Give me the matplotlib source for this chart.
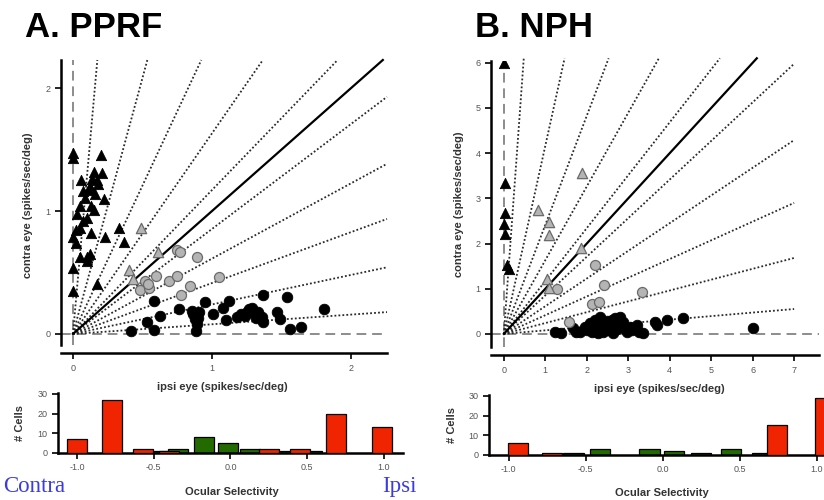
import numpy as np
import matplotlib
matplotlib.use('Agg')
import matplotlib.pyplot as plt

plt.rcParams['font.family'] = ['Liberation Sans', 'DejaVu Sans']

# sector boundaries drawn from the origin (degrees)
SECTOR_ANGLES = [4.5, 13.5, 22.5, 31.5, 40.5, 49.5, 58.5, 67.5, 76.5, 85.5]

# ---- A. PPRF scatter ----
pprf_tri_black_x = [0.00, 0.00, 0.20, 0.15, 0.21, 0.06, 0.17, 0.18, 0.07, 0.11, 0.13, 0.16,
                    0.22, 0.09, 0.05, 0.13, 0.15, 0.03, 0.10, 0.07, 0.02, 0.05, 0.13, 0.33,
                    0.23, 0.00, 0.02, 0.37, 0.05, 0.10, 0.12, 0.10, 0.00, 0.17, 0.00, 0.12, 0.14]
pprf_tri_black_y = [1.47, 1.43, 1.46, 1.32, 1.31, 1.25, 1.25, 1.22, 1.16, 1.17, 1.18, 1.14,
                    1.10, 1.11, 1.04, 1.04, 1.01, 0.98, 0.94, 0.92, 0.85, 0.86, 0.82, 0.86,
                    0.79, 0.79, 0.74, 0.75, 0.63, 0.63, 0.65, 0.59, 0.54, 0.41, 0.35, 1.20, 1.26]
pprf_tri_gray_x = [0.49, 0.61, 0.40, 0.43]
pprf_tri_gray_y = [0.86, 0.67, 0.52, 0.45]
pprf_circ_gray_x = [0.75, 0.77, 0.89, 0.52, 0.60, 0.48, 0.55, 0.69, 0.75, 1.05, 0.84, 0.78, 0.54]
pprf_circ_gray_y = [0.685, 0.665, 0.63, 0.43, 0.47, 0.36, 0.37, 0.43, 0.47, 0.46, 0.39, 0.32, 0.41]
pprf_circ_black_x = [0.42, 0.53, 0.58, 0.58, 0.63, 0.765, 0.865, 0.88, 0.90, 0.885, 0.91, 0.95,
                     1.01, 1.08, 1.125, 1.10, 1.18, 1.21, 1.25, 1.29, 1.30, 1.33, 1.36, 1.37,
                     1.37, 1.47, 1.49, 1.54, 1.56, 1.64, 1.81, 0.86, 1.24, 1.27, 0.89, 1.32]
pprf_circ_black_y = [0.02, 0.10, 0.265, 0.03, 0.15, 0.20, 0.16, 0.12, 0.13, 0.02, 0.18, 0.26,
                     0.16, 0.21, 0.27, 0.115, 0.14, 0.16, 0.18, 0.21, 0.17, 0.18, 0.14, 0.10,
                     0.32, 0.18, 0.12, 0.30, 0.04, 0.06, 0.20, 0.19, 0.15, 0.20, 0.08, 0.13]

# ---- B. NPH scatter ----
nph_tri_black_x = [0.00, 0.02, 0.02, 0.00, 0.03, 0.07, 0.13]
nph_tri_black_y = [6.00, 3.34, 2.68, 2.44, 2.20, 1.53, 1.44]
nph_tri_gray_x = [1.88, 0.82, 1.08, 1.08, 1.87, 1.04, 1.10]
nph_tri_gray_y = [3.56, 2.74, 2.47, 2.18, 1.90, 1.22, 1.02]
nph_circ_gray_x = [1.28, 2.20, 2.42, 2.13, 2.30, 3.32, 1.58]
nph_circ_gray_y = [1.00, 1.52, 1.08, 0.67, 0.71, 0.93, 0.27]
nph_circ_black_x = [1.23, 1.39, 1.67, 1.84, 1.96, 2.08, 2.20, 2.32, 2.12, 2.28, 2.44, 2.52,
                    2.68, 2.80, 2.88, 2.64, 2.96, 3.04, 3.20, 3.36, 3.65, 3.69, 3.93, 4.33,
                    6.00, 2.00, 2.16, 2.36, 2.48, 2.58, 2.72, 2.90, 3.10, 2.25, 2.62, 1.75,
                    3.25, 2.40, 2.76]
nph_circ_black_y = [0.05, 0.02, 0.13, 0.05, 0.16, 0.24, 0.31, 0.38, 0.05, 0.02, 0.20, 0.09,
                    0.35, 0.38, 0.27, 0.02, 0.05, 0.16, 0.20, 0.02, 0.27, 0.20, 0.31, 0.35,
                    0.13, 0.08, 0.15, 0.12, 0.28, 0.18, 0.10, 0.12, 0.08, 0.22, 0.30, 0.04,
                    0.05, 0.04, 0.22]

# ---- ocular selectivity histograms ----
pprf_red_os = [-1.0, -0.77, -0.57, -0.40, 0.25, 0.45, 0.69, 0.99]
pprf_red_n = [7, 27, 2, 1, 2, 2, 20, 13]
pprf_green_os = [-0.45, -0.34, -0.175, -0.016, 0.13, 0.33, 0.53]
pprf_green_n = [1, 2, 8, 5, 2, 1, 1]
nph_red_os = [-0.94, -0.72, 0.74, 1.05]
nph_red_n = [6, 1, 15, 29]
nph_green_os = [-0.58, -0.405, -0.087, 0.075, 0.245, 0.44, 0.64]
nph_green_n = [1, 3, 3, 2, 1, 3, 1]

RED = '#f02400'
GREEN = '#236b00'
GRAY = '#b4b4b4'
TICK_KW = dict(labelsize=6.5, labelcolor='#555555', length=4, width=1.2, direction='out')
LABEL_KW = dict(fontsize=8, fontweight='bold', color='#333333')


def scatter_panel(ax, xmax, ymax, xlim, ylim, ticks_x, ticks_y, pts):
    tb_x, tb_y, tg_x, tg_y, cg_x, cg_y, cb_x, cb_y = pts
    ax.set_xlim(*xlim)
    ax.set_ylim(*ylim)
    ax.axvline(0, color='#8c8c8c', lw=1.4, dashes=(5, 3), zorder=1)
    ax.axhline(0, color='#8c8c8c', lw=1.4, dashes=(5, 3), zorder=1)
    for a in SECTOR_ANGLES:
        t = np.radians(a)
        r = min(xmax / np.cos(t), ymax / np.sin(t))
        ax.plot([0, r * np.cos(t)], [0, r * np.sin(t)], ls=(0, (1, 1.2)),
                color='#2a2a2a', lw=1.3, zorder=2, clip_on=False)
    r = min(xmax, ymax)
    ax.plot([0, r], [0, r], color='black', lw=1.6, zorder=2, clip_on=False)
    ax.scatter(cb_x, cb_y, s=58, marker='o', facecolor='black', edgecolor='black', lw=0.6, zorder=4)
    ax.scatter(cg_x, cg_y, s=52, marker='o', facecolor=GRAY, edgecolor='#6a6a6a', lw=0.9, zorder=4)
    ax.scatter(tg_x, tg_y, s=55, marker='^', facecolor=GRAY, edgecolor='#6a6a6a', lw=0.9, zorder=4)
    ax.scatter(tb_x, tb_y, s=55, marker='^', facecolor='black', edgecolor='black', lw=0.6, zorder=5)
    for side in ['top', 'right']:
        ax.spines[side].set_visible(False)
    ax.spines['left'].set_linewidth(1.8)
    ax.spines['bottom'].set_linewidth(1.8)
    ax.spines['bottom'].set_position(('outward', 6))
    ax.set_xticks(ticks_x)
    ax.set_yticks(ticks_y)
    ax.tick_params(**TICK_KW)
    ax.set_xlabel('ipsi eye (spikes/sec/deg)', **LABEL_KW)
    ax.set_ylabel('contra eye (spikes/sec/deg)', **LABEL_KW)


def hist_panel(ax, xlim, red_os, red_n, green_os, green_n):
    ax.bar(green_os, green_n, width=0.13, color=GREEN, edgecolor='black', lw=0.9, zorder=2)
    ax.bar(red_os, red_n, width=0.13, color=RED, edgecolor='black', lw=0.9, zorder=3)
    ax.set_xlim(*xlim)
    ax.set_ylim(0, 30.5)
    for side in ['top', 'right']:
        ax.spines[side].set_visible(False)
    ax.spines['left'].set_linewidth(1.8)
    ax.spines['bottom'].set_linewidth(1.8)
    ax.set_xticks([-1.0, -0.5, 0.0, 0.5, 1.0])
    ax.set_xticklabels(['-1.0', '-0.5', '0.0', '0.5', '1.0'])
    ax.set_yticks([0, 10, 20, 30])
    ax.tick_params(**TICK_KW)
    ax.set_xlabel('Ocular Selectivity', **LABEL_KW)
    ax.set_ylabel('# Cells', **LABEL_KW)


W, H = 824, 500
fig = plt.figure(figsize=(W / 100, H / 100), dpi=100)


def px_axes(l, r, t, b):
    return fig.add_axes([l / W, 1 - b / H, (r - l) / W, (b - t) / H])


axA = px_axes(61, 387, 60, 345)
scatter_panel(axA, 2.26, 2.23, (-0.086, 2.26), (-0.09, 2.23), [0, 1, 2], [0, 1, 2],
              (pprf_tri_black_x, pprf_tri_black_y, pprf_tri_gray_x, pprf_tri_gray_y,
               pprf_circ_gray_x, pprf_circ_gray_y, pprf_circ_black_x, pprf_circ_black_y))
axA.xaxis.set_label_coords(0.494, -0.13)
axA.yaxis.set_label_coords(-0.086, 0.49)

axB = px_axes(491, 819, 61, 347)
scatter_panel(axB, 7.0, 6.1, (-0.31, 7.6), (-0.29, 6.04), range(8), range(7),
              (nph_tri_black_x, nph_tri_black_y, nph_tri_gray_x, nph_tri_gray_y,
               nph_circ_gray_x, nph_circ_gray_y, nph_circ_black_x, nph_circ_black_y))
axB.xaxis.set_label_coords(0.512, -0.13)
axB.yaxis.set_label_coords(-0.082, 0.5)

hA = px_axes(58, 403, 393, 453)
hist_panel(hA, (-1.124, 1.124), pprf_red_os, pprf_red_n, pprf_green_os, pprf_green_n)
hA.xaxis.set_label_coords(0.504, -0.57)
hA.yaxis.set_label_coords(-0.096, 0.5)

hB = px_axes(489, 824, 395, 455)
hist_panel(hB, (-1.128, 1.045), nph_red_os, nph_red_n, nph_green_os, nph_green_n)
hB.xaxis.set_label_coords(0.516, -0.55)
hB.yaxis.set_label_coords(-0.096, 0.5)

fig.text(25 / W, 1 - 37 / H, 'A. PPRF', fontsize=25, fontweight='bold', va='baseline')
fig.text(475 / W, 1 - 37 / H, 'B. NPH', fontsize=25, fontweight='bold', va='baseline')
fig.text(3 / W, 1 - 492 / H, 'Contra', fontsize=16.5, color='#3b3be6',
         family='Liberation Serif', va='baseline')
fig.text(382 / W, 1 - 492 / H, 'Ipsi', fontsize=16.5, color='#3b3be6',
         family='Liberation Serif', va='baseline')

fig.savefig('out.png', dpi=100)
